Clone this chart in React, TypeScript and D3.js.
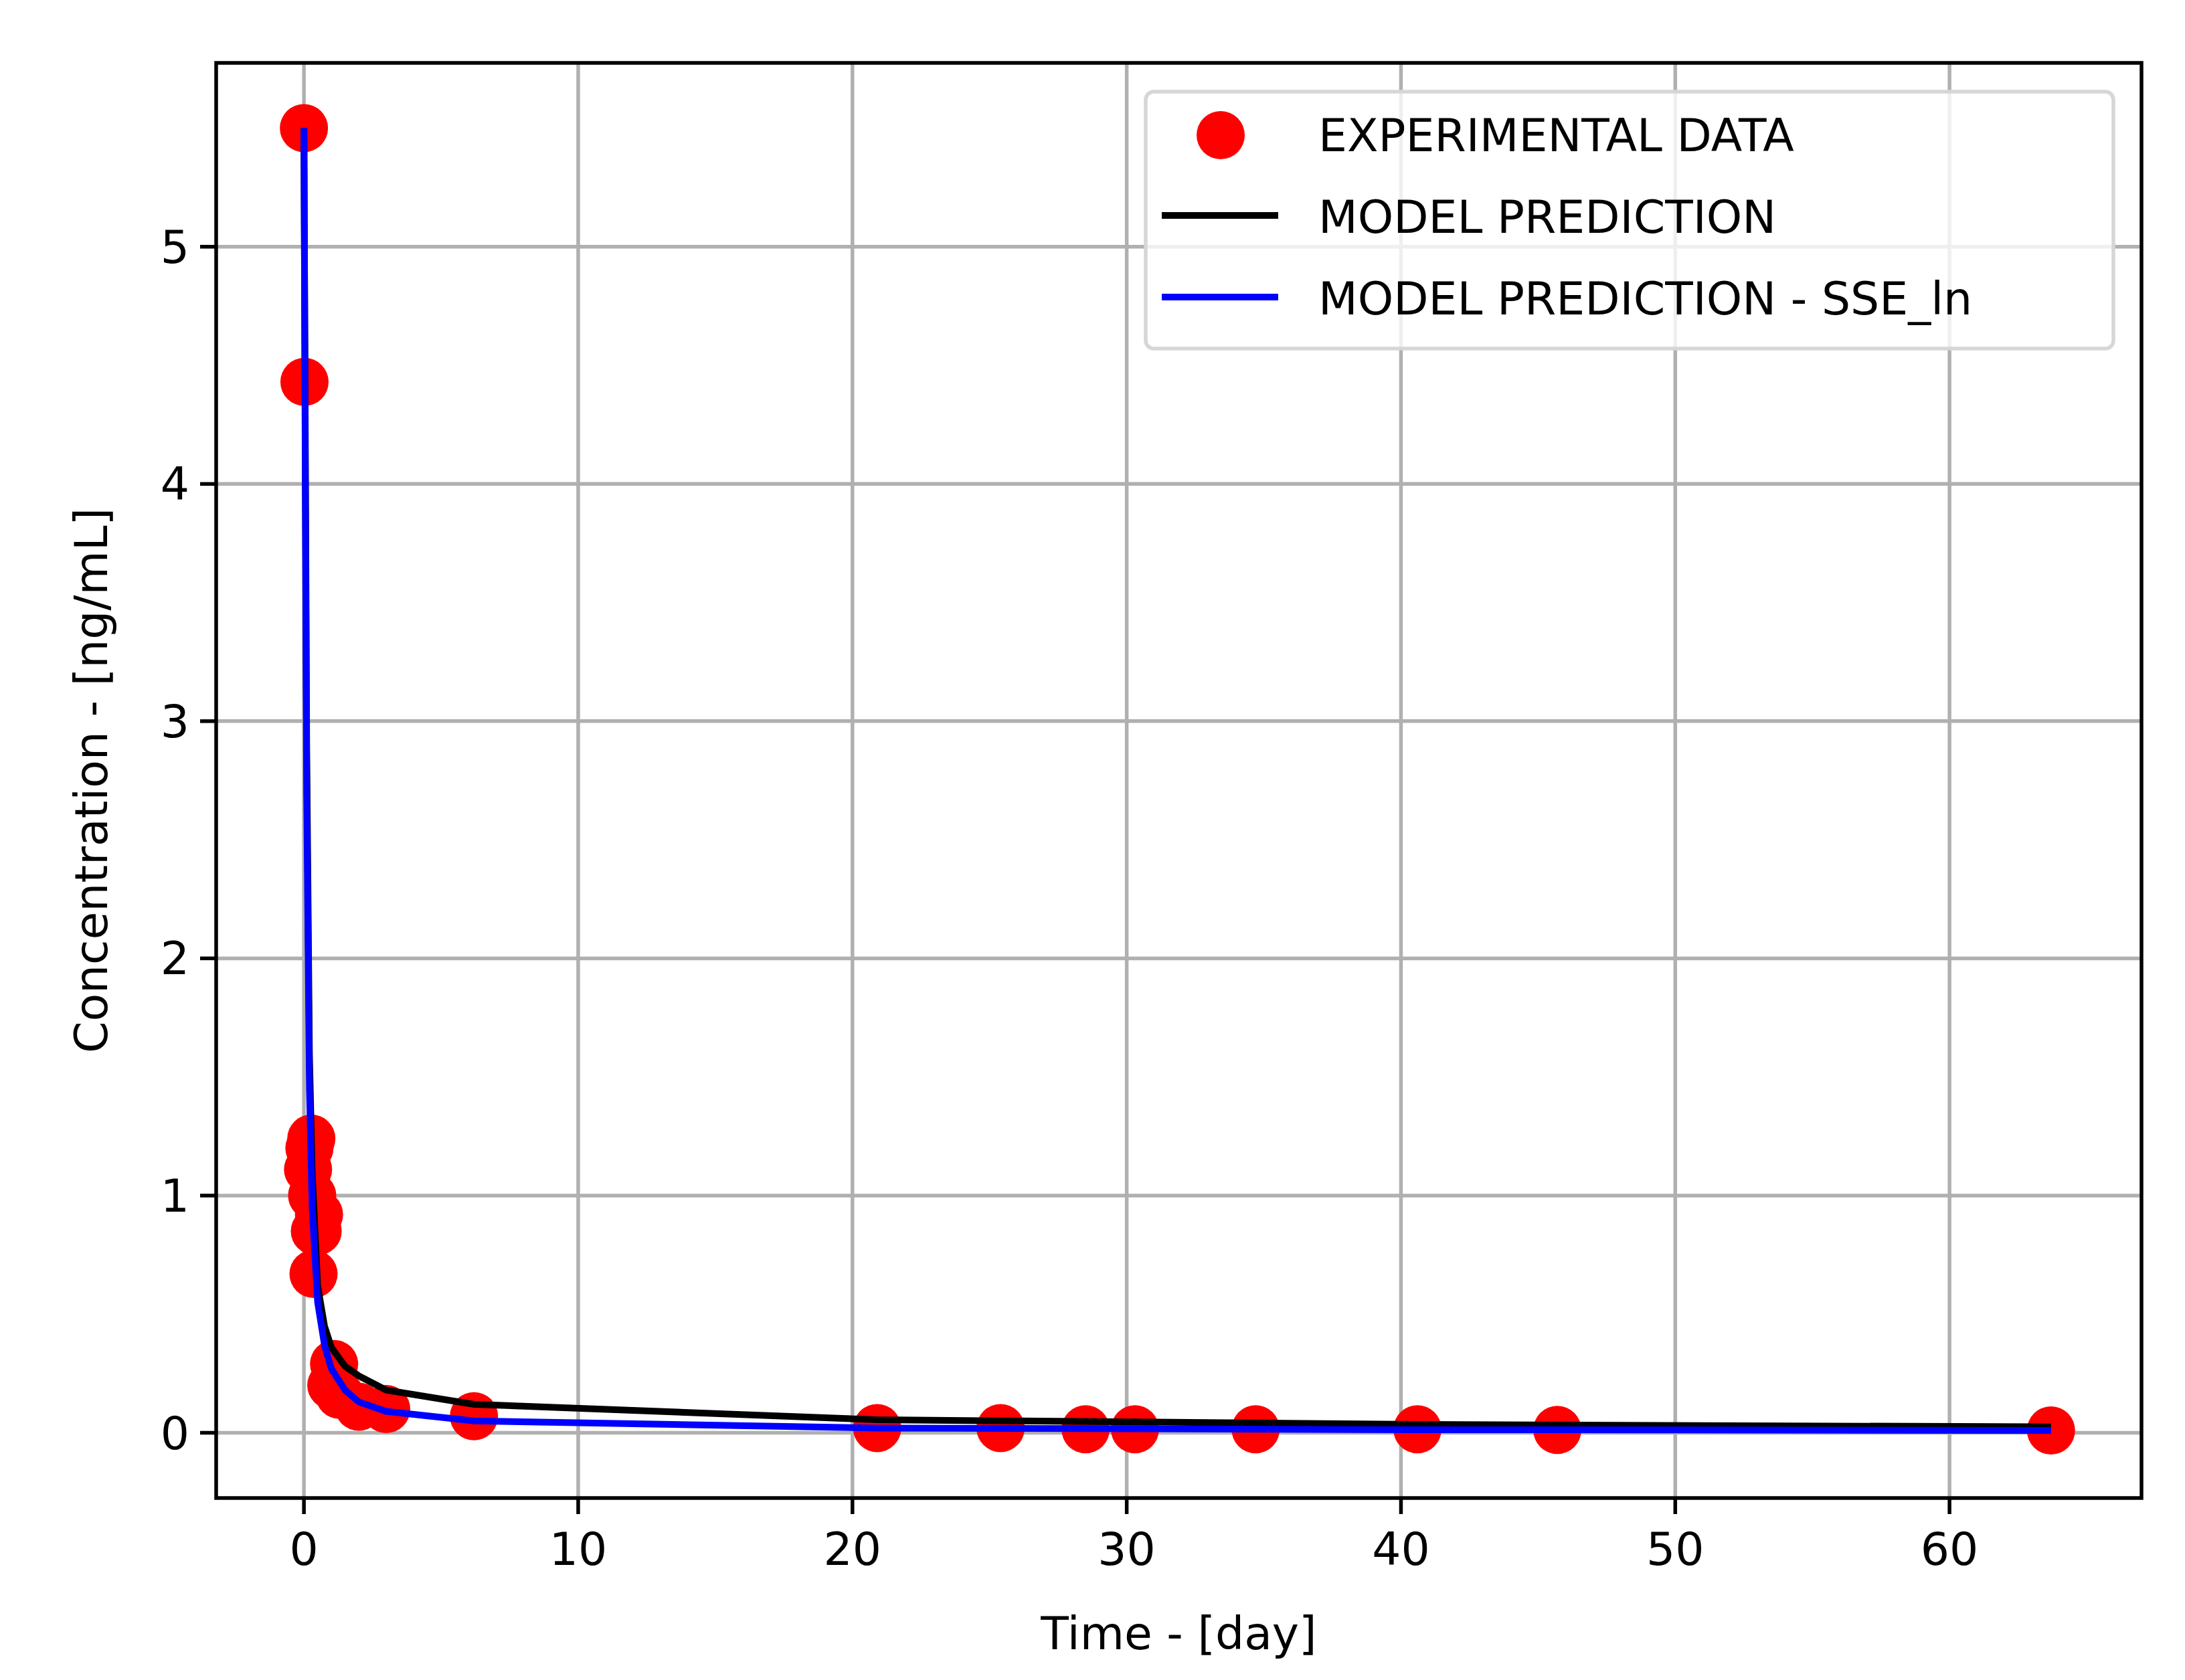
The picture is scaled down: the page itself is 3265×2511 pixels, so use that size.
import * as d3 from "d3";

const expTime = [0.0, 0.02, 0.27, 0.2, 0.15, 0.3, 0.55, 0.5, 0.4, 0.35, 1.1, 1.0, 1.3, 2.0, 3.0, 6.2, 20.9, 25.4, 28.5, 30.3, 34.7, 40.6, 45.7, 63.7];
const expConc = [5.5, 4.43, 1.24, 1.2, 1.11, 1.0, 0.92, 0.85, 0.85, 0.67, 0.29, 0.2, 0.16, 0.11, 0.1, 0.07, 0.02, 0.02, 0.015, 0.015, 0.015, 0.015, 0.012, 0.01];

const modelTime = [0, 0.05, 0.1, 0.2, 0.3, 0.5, 0.75, 1, 1.5, 2, 3, 6.2, 20.9, 40.6, 63.7];
const modelConc = [5.5, 4.2, 2.9, 1.6, 1.1, 0.62, 0.45, 0.36, 0.28, 0.24, 0.18, 0.12, 0.055, 0.035, 0.025];
const sseConc = [5.5, 4.0, 2.7, 1.45, 0.95, 0.55, 0.37, 0.27, 0.18, 0.13, 0.09, 0.05, 0.02, 0.013, 0.01];

const xTicks = [0, 10, 20, 30, 40, 50, 60];
const yTicks = [0, 1, 2, 3, 4, 5];
const legendLabels = ["EXPERIMENTAL DATA", "MODEL PREDICTION", "MODEL PREDICTION - SSE_ln"];

const W = 3265, H = 2511;
const L = 323, R = 3200, T = 94, B = 2239;
const font = "DejaVu Sans, sans-serif";

export default function App() {
  const x = d3.scaleLinear().domain([-3.2, 67]).range([L, R]);
  const y = d3.scaleLinear().domain([-0.275, 5.775]).range([B, T]);
  const line = d3.line<number>().x((_, i) => x(modelTime[i])).y((d) => y(d));
  return (
    <svg width={W} height={H} style={{ display: "block", position: "absolute", left: 0, top: 0 }} fontFamily={font}>
      <rect width={W} height={H} fill="#fff" />
      {xTicks.map((t) => (
        <g key={"x" + t}>
          <line x1={x(t)} x2={x(t)} y1={T} y2={B} stroke="#b0b0b0" strokeWidth={5.5} />
          <line x1={x(t)} x2={x(t)} y1={B} y2={B + 24} stroke="#000" strokeWidth={5.5} />
          <text x={x(t)} y={B + 100} fontSize={68} textAnchor="middle">{t}</text>
        </g>
      ))}
      {yTicks.map((t) => (
        <g key={"y" + t}>
          <line x1={L} x2={R} y1={y(t)} y2={y(t)} stroke="#b0b0b0" strokeWidth={5.5} />
          <line x1={L - 24} x2={L} y1={y(t)} y2={y(t)} stroke="#000" strokeWidth={5.5} />
          <text x={L - 40} y={y(t) + 24} fontSize={68} textAnchor="end">{t}</text>
        </g>
      ))}
      {expTime.map((t, i) => (
        <circle key={i} cx={x(t)} cy={y(expConc[i])} r={36} fill="#ff0000" />
      ))}
      <path d={line(modelConc) ?? ""} fill="none" stroke="#000" strokeWidth={10} />
      <path d={line(sseConc) ?? ""} fill="none" stroke="#0000ff" strokeWidth={10} />
      <rect x={L} y={T} width={R - L} height={B - T} fill="none" stroke="#000" strokeWidth={5.5} />
      <g>
        <rect x={1712} y={137} width={1446} height={384} rx={12} fill="#fff" fillOpacity={0.8} stroke="#d6d6d6" strokeWidth={5.5} />
        <circle cx={1824} cy={202} r={36} fill="#ff0000" />
        <line x1={1736} x2={1910} y1={322} y2={322} stroke="#000" strokeWidth={10} />
        <line x1={1736} x2={1910} y1={444} y2={444} stroke="#0000ff" strokeWidth={10} />
        {legendLabels.map((s, i) => (
          <text key={s} x={1970} y={226 + i * 122} fontSize={68}>{s}</text>
        ))}
      </g>
      <text x={(L + R) / 2} y={2465} fontSize={68} textAnchor="middle">Time - [day]</text>
      <text transform={`translate(160,${(T + B) / 2}) rotate(-90)`} fontSize={68} textAnchor="middle">Concentration - [ng/mL]</text>
    </svg>
  );
}
